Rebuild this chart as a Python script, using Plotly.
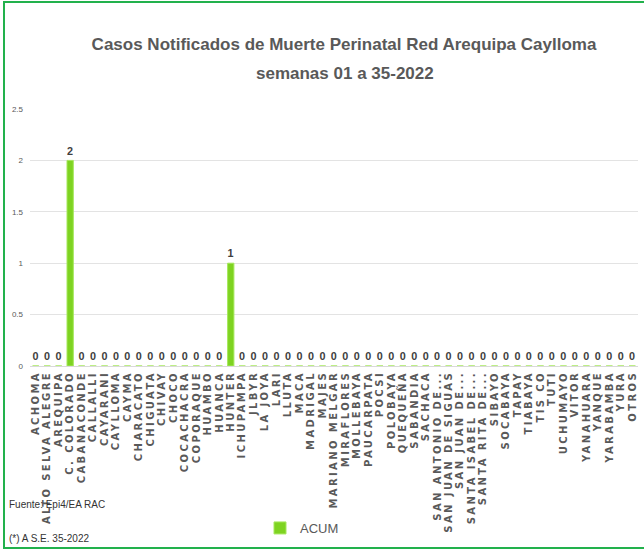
import plotly.graph_objects as go

categories = ["ACHOMA", "ALTO SELVA ALEGRE", "AREQUIPA", "C. COLORADO", "CABANACONDE", "CALLALLI",
              "CAYARANI", "CAYLLOMA", "CAYMA", "CHARACATO", "CHIGUATA", "CHIVAY", "CHOCO",
              "COCACHACRA", "COPORAQUE", "HUAMBO", "HUANCA", "HUNTER", "ICHUPAMPA", "JLBYR",
              "LA JOYA", "LARI", "LLUTA", "MACA", "MADRIGAL", "MAJES", "MARIANO MELGAR",
              "MIRAFLORES", "MOLLEBAYA", "PAUCARPATA", "POCSI", "POLOBAYA", "QUEQUEÑA",
              "SABANDIA", "SACHACA", "SAN ANTONIO DE...", "SAN JUAN DE SIGUAS", "SAN JUAN DE...",
              "SANTA ISABEL DE...", "SANTA RITA DE...", "SIBAYO", "SOCABAYA", "TAPAY", "TIABAYA",
              "TIS CO", "TUTI", "UCHUMAYO", "VITOR", "YANAHUARA", "YANQUE", "YARABAMBA", "YURA",
              "OTROS"]
acum = [0] * len(categories)
acum[categories.index("C. COLORADO")] = 2
acum[categories.index("HUNTER")] = 1

y_ticks = [0, 0.5, 1, 1.5, 2, 2.5]
y_tick_labels = ["0", "0.5", "1", "1.5", "2", "2.5"]

W, H = 644, 551
ML, MR, MT, MB = 30, 6, 109, 185
PW, PH = W - ML - MR, H - MT - MB


def px(x):
    return (x - ML) / PW


def py(y):
    return (H - MB - y) / PH


fig = go.Figure()
fig.add_trace(go.Bar(
    x=categories, y=acum, name="ACUM",
    marker=dict(color="#7ED321", line=dict(color="#A6E85C", width=1)),
    text=[str(v) for v in acum], textposition="outside", cliponaxis=False,
    textfont=dict(family="Liberation Sans", size=12, color="#404040", weight="bold"),
))

title_font = dict(family="Liberation Sans", size=17, color="#595959", weight="bold")

fig.update_layout(
    width=W, height=H,
    margin=dict(l=ML, r=MR, t=MT, b=MB),
    paper_bgcolor="white", plot_bgcolor="white",
    title=dict(
        text="Casos Notificados de Muerte Perinatal Red Arequipa Caylloma",
        x=344 / W, xanchor="center", y=1 - 44 / H, yanchor="middle",
        font=title_font,
    ),
    bargap=0.45,
    showlegend=True,
    legend=dict(orientation="h", x=px(260), y=py(528), xanchor="left", yanchor="middle",
                bgcolor="rgba(0,0,0,0)",
                font=dict(family="Liberation Sans", size=13, color="#595959"),
                itemwidth=30),
    xaxis=dict(
        tickangle=-90, automargin=False, tickmode="array", tickvals=categories, ticktext=categories,
        tickfont=dict(family="DejaVu Sans", size=10, color="#595959", weight="bold"),
        showgrid=False, linecolor="#d9d9d9", showline=True, ticks="",
    ),
    yaxis=dict(
        range=[0, 2.5], tickvals=y_ticks, ticktext=y_tick_labels, automargin=False,
        tickfont=dict(family="Liberation Sans", size=8, color="#595959"),
        gridcolor="#e3e3e3", zeroline=False, ticklabelstandoff=6,
    ),
    font=dict(family="Liberation Sans"),
)

fig.add_annotation(text="semanas 01 a 35-2022", xref="paper", yref="paper", x=px(345), y=py(73),
                   xanchor="center", yanchor="middle", showarrow=False, font=title_font)

fig.add_annotation(text="Fuente: Epi4/EA RAC", xref="paper", yref="paper", x=px(7), y=py(505),
                   xanchor="left", yanchor="middle", showarrow=False,
                   font=dict(family="Liberation Sans", size=10, color="#333333"))
fig.add_annotation(text="(*) A S.E. 35-2022", xref="paper", yref="paper", x=px(7), y=py(538),
                   xanchor="left", yanchor="middle", showarrow=False,
                   font=dict(family="Liberation Sans", size=10, color="#333333"))

fig.add_shape(type="rect", xref="paper", yref="paper", x0=px(4), x1=px(650), y0=py(548), y1=py(2),
              line=dict(color="#22B14C", width=2), fillcolor="rgba(0,0,0,0)")

post = """
document.body.style.margin='0';
document.querySelectorAll('.xtick text').forEach(function(t){ t.style.letterSpacing='2.4px'; });
"""
fig.write_html("out.html", post_script=post, config={"displayModeBar": False})
